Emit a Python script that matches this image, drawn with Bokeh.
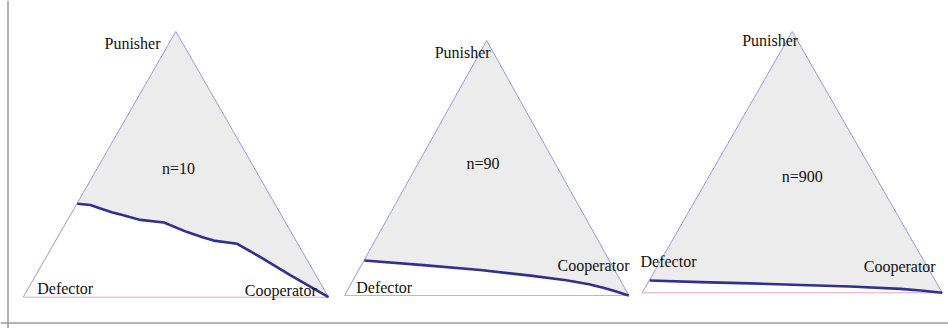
import numpy as np
from bokeh.plotting import figure
from bokeh.models import Range1d, Span
from bokeh.embed import file_html
from bokeh.resources import INLINE
from bokeh.core.properties import value

# ---------------- data ----------------
panel_labels = ["n=10", "n=90", "n=900"]
vertex_labels = ["Defector", "Cooperator", "Punisher"]

# Boundary curves inside the simplex.
# u: position along the Defector -> Cooperator base (0..1)
# v: height towards Punisher (0..1)
curve_u_n10 = [0.177, 0.220, 0.253, 0.290, 0.319, 0.384, 0.461, 0.537, 0.590, 0.624, 0.701, 0.777, 0.876, 1.0]
curve_v_n10 = [0.352, 0.347, 0.334, 0.320, 0.311, 0.291, 0.281, 0.245, 0.225, 0.213, 0.201, 0.151, 0.082, 0.0]

curve_u_n90 = [0.070, 0.267, 0.478, 0.654, 0.780, 0.860, 0.910, 0.950, 0.980, 1.0]
curve_v_n90 = [0.137, 0.120, 0.100, 0.078, 0.060, 0.044, 0.030, 0.018, 0.007, 0.0]

curve_u_n900 = [0.025, 0.194, 0.361, 0.528, 0.694, 0.861, 0.928, 1.0]
curve_v_n900 = [0.047, 0.041, 0.036, 0.030, 0.024, 0.015, 0.009, 0.0]

curves_u = [curve_u_n10, curve_u_n90, curve_u_n900]
curves_v = [curve_v_n10, curve_v_n90, curve_v_n900]

# ---------------- layout (page pixels) ----------------
# each panel: left base x, base y, base width, height
frames = [(22.7, 296.7, 305.3, 265.7),
          (344.0, 295.0, 284.3, 255.0),
          (641.7, 292.3, 300.0, 261.3)]

# label anchor positions (x centre, baseline y) per panel: Defector, Cooperator, Punisher, n=
label_pos = [
    [(64.7, 293.3), (280.3, 295.0), (132.0, 47.5), (178.0, 173.3)],
    [(383.7, 292.3), (593.0, 270.0), (462.2, 56.7), (482.5, 168.3)],
    [(668.0, 265.7), (899.2, 271.0), (769.7, 45.0), (801.7, 180.7)],
]
TEXT_SHIFT = -5.0

W_PX, H_PX = 948, 328
p = figure(width=W_PX, height=H_PX, output_backend="svg", toolbar_location=None,
           x_range=Range1d(0, W_PX), y_range=Range1d(H_PX, 0),
           min_border=0, min_border_left=0, min_border_right=0,
           min_border_top=0, min_border_bottom=0)
p.axis.visible = False
p.grid.visible = False
p.outline_line_color = None
p.background_fill_color = "white"
p.border_fill_color = "white"

FONT = value("Liberation Serif")
FSIZE = value("16px")
EDGE = "#9a9ad8"
BASE = "#dca6cc"
FILL = "#ececec"
CURVE = "#2f2f95"

for i, (xL, yB, W, H) in enumerate(frames):
    def tx(u):
        return xL + np.asarray(u, dtype=float) * W

    def ty(v):
        return yB - np.asarray(v, dtype=float) * H

    cu = np.asarray(curves_u[i])
    cv = np.asarray(curves_v[i])
    # grey region: above the boundary curve up to the Punisher vertex
    px = list(tx(cu)) + [tx(0.5)]
    py = list(ty(cv)) + [ty(1.0)]
    p.patch(px, py, fill_color=FILL, line_color=None)

    # triangle edges
    p.line([tx(0.0), tx(0.5), tx(1.0)], [ty(0.0), ty(1.0), ty(0.0)],
           line_color=EDGE, line_width=1)
    p.line([tx(0.0), tx(1.0)], [ty(0.0), ty(0.0)], line_color=BASE, line_width=1)

    # boundary curve
    p.line(tx(cu), ty(cv), line_color=CURVE, line_width=2.6, line_join="round")

    texts = vertex_labels + [panel_labels[i]]
    xs = [pos[0] for pos in label_pos[i]]
    ys = [pos[1] + TEXT_SHIFT for pos in label_pos[i]]
    p.text(xs, ys, text=texts, text_font=FONT, text_font_size=FSIZE,
           text_align="center", text_baseline="alphabetic", text_color="#111111")

# frame lines (left and bottom)
p.add_layout(Span(location=7.5, dimension="height", line_color="#9a9a9a", line_width=1.5))
p.add_layout(Span(location=322.5, dimension="width", line_color="#9a9a9a", line_width=1.5))

open("out.html", "w").write(file_html(p, INLINE))
